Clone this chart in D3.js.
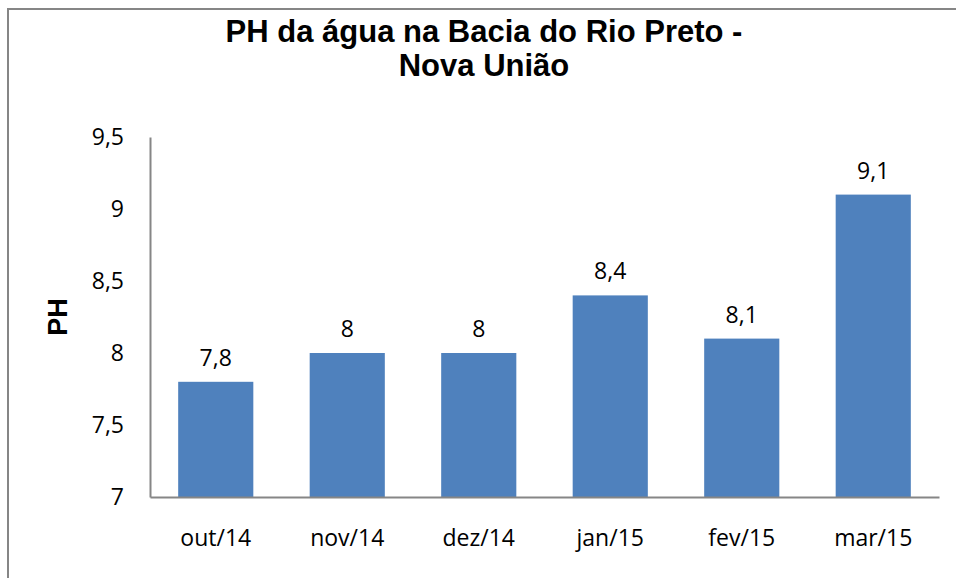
<!DOCTYPE html>
<html>
<head>
<meta charset="utf-8">
<script src="https://cdn.jsdelivr.net/npm/d3@7"></script>
<style>
  body { margin: 0; background: #fff; }
  svg { display: block; }
</style>
</head>
<body>
<div id="visHolder"></div>
<script>
const months = ["out/14", "nov/14", "dez/14", "jan/15", "fev/15", "mar/15"];
const phValues = [7.8, 8, 8, 8.4, 8.1, 9.1];
const yTicks = [7, 7.5, 8, 8.5, 9, 9.5];
const titleLines = ["PH da água na Bacia do Rio Preto -", "Nova União"];

let width = 956;
let height = 578;
let plotLeft = 150, plotRight = 939, plotTop = 137, plotBottom = 497;
let labelFont = "'Open Sans', Lato, sans-serif";

let svg = d3.select("#visHolder")
    .append("svg")
    .attr("width", width)
    .attr("height", height);

// chart frame
svg.append("rect")
    .attr("x", 8).attr("y", 9)
    .attr("width", 970).attr("height", 600)
    .attr("fill", "#fff")
    .attr("stroke", "#868686")
    .attr("stroke-width", 2);

let fmt = v => String(v).replace(".", ",");

let xScale = d3.scaleBand()
    .domain(months)
    .range([plotLeft, plotRight])
    .paddingInner(0.75 / 1.75)
    .paddingOuter(0.375 / 1.75);

let yScale = d3.scaleLinear()
    .domain([7, 9.5])
    .range([plotBottom, plotTop]);

svg.selectAll("rect.bar")
    .data(phValues)
    .enter()
    .append("rect")
    .attr("class", "bar")
    .attr("x", (d, i) => xScale(months[i]))
    .attr("y", d => yScale(d))
    .attr("width", xScale.bandwidth())
    .attr("height", d => yScale(7) - yScale(d))
    .attr("fill", "#4F81BD");

let yAxis = d3.axisLeft(yScale)
    .tickValues(yTicks)
    .tickSize(0)
    .tickPadding(26)
    .tickFormat(fmt);
let gy = svg.append("g")
    .attr("transform", `translate(${plotLeft},0)`)
    .call(yAxis);
gy.select(".domain").attr("stroke", "#868686").attr("stroke-width", 2);
gy.selectAll("text")
    .attr("font-family", labelFont)
    .attr("font-size", 23)
    .attr("fill", "#000");

let xAxis = d3.axisBottom(xScale).tickSize(0).tickPadding(33);
let gx = svg.append("g")
    .attr("transform", `translate(0,${plotBottom})`)
    .call(xAxis);
gx.select(".domain").attr("stroke", "#868686").attr("stroke-width", 2);
gx.selectAll("text")
    .attr("font-family", labelFont)
    .attr("font-size", 23)
    .attr("fill", "#000");

// value labels
svg.selectAll("text.val")
    .data(phValues)
    .enter()
    .append("text")
    .attr("class", "val")
    .attr("x", (d, i) => xScale(months[i]) + xScale.bandwidth() / 2)
    .attr("y", d => yScale(d) - 16)
    .attr("text-anchor", "middle")
    .attr("font-family", labelFont)
    .attr("font-size", 23)
    .text(fmt);

// title
svg.selectAll("text.title")
    .data(titleLines)
    .enter()
    .append("text")
    .attr("class", "title")
    .attr("x", 484)
    .attr("y", (d, i) => 42 + i * 34)
    .attr("text-anchor", "middle")
    .attr("font-family", "'Liberation Sans', Arial, sans-serif")
    .attr("font-weight", "bold")
    .attr("font-size", 31)
    .text(d => d);

// y axis title
svg.append("text")
    .attr("transform", "translate(67,317) rotate(-90)")
    .attr("text-anchor", "middle")
    .attr("font-family", "'Liberation Sans', Arial, sans-serif")
    .attr("font-weight", "bold")
    .attr("font-size", 27)
    .text("PH");
</script>
</body>
</html>
